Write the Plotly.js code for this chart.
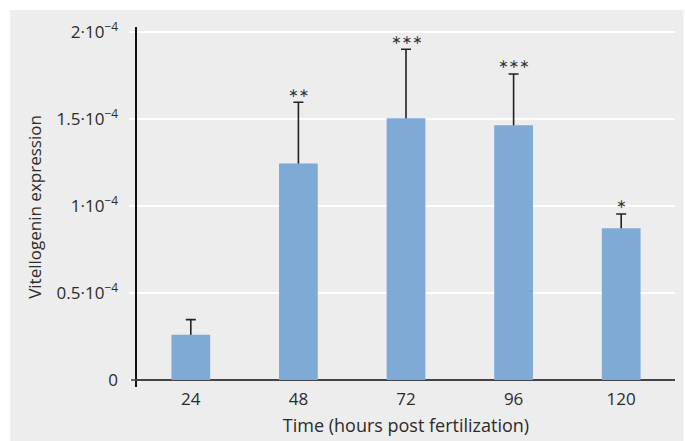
<!DOCTYPE html>
<html>
<head>
<meta charset="utf-8">
<script src="https://cdn.plot.ly/plotly-3.0.1.min.js"></script>
<style>html,body{margin:0;padding:0;background:#fff;}#chart{width:685px;height:441px;}</style>
</head>
<body>
<div id="chart"></div>
<script>
// Data (hours post fertilization vs vitellogenin expression)
var hours = ["24", "48", "72", "96", "120"];
var expression = [0.26e-4, 1.245e-4, 1.505e-4, 1.465e-4, 0.872e-4];
var errorUp = [0.087e-4, 0.352e-4, 0.397e-4, 0.295e-4, 0.083e-4];
var significance = ["", "∗∗", "∗∗∗", "∗∗∗", "∗"];
var yTickVals = [0, 0.5e-4, 1e-4, 1.5e-4, 2e-4];
var yTickText = ["0", "0.5·10<sup>−4</sup>", "1·10<sup>−4</sup>", "1.5·10<sup>−4</sup>", "2·10<sup>−4</sup>"];

var textColor = "#2b2b2b";
var fontFam = "'Open Sans', Roboto, sans-serif";
var barColor = "#7faad6";

// Error bars are drawn by an invisible overlaid bar trace whose lower cap
// sits just inside the real bar, so the visible bar hides it.
var hide = 0.025e-4;
var errTrace = {
  type: "bar",
  x: hours,
  y: expression.map(function(v){ return v - hide; }),
  marker: {color: "rgba(0,0,0,0)", line: {width: 0}},
  error_y: {type: "data", symmetric: false,
            array: errorUp.map(function(e){ return e + hide; }),
            arrayminus: hours.map(function(){ return 0; }),
            color: "#222", thickness: 1.6, width: 5},
  hoverinfo: "skip"
};
var barTrace = {
  type: "bar",
  x: hours,
  y: expression,
  marker: {color: barColor, line: {width: 0}},
  hoverinfo: "skip"
};

var annotations = [];
for (var i = 0; i < hours.length; i++) {
  if (!significance[i]) continue;
  annotations.push({
    x: i, y: expression[i] + errorUp[i], xref: "x", yref: "y",
    text: significance[i], showarrow: false, yanchor: "middle", yshift: 10,
    font: {family: "'DejaVu Sans', sans-serif", size: 12.5, color: "#333"}
  });
}

var pw = 538, ph = 360;
var layout = {
  width: 685, height: 441,
  margin: {l: 137, r: 10, t: 27, b: 54, pad: 0},
  paper_bgcolor: "#ffffff",
  plot_bgcolor: "rgba(0,0,0,0)",
  showlegend: false,
  barmode: "overlay",
  bargap: 0.64,
  font: {family: fontFam, size: 17, color: textColor},
  xaxis: {
    type: "category", range: [-0.5, 4.5], showline: false, ticks: "", showgrid: false, zeroline: false,
    tickfont: {family: fontFam, size: 17, color: textColor},
    title: {text: "Time (hours post fertilization)", font: {family: fontFam, size: 18, color: textColor}, standoff: 10}
  },
  yaxis: {
    range: [-0.0403e-4, 2.03e-4],
    tickmode: "array", tickvals: yTickVals, ticktext: yTickText,
    ticks: "outside", ticklen: 6, tickwidth: 2, tickcolor: "#ffffff",
    ticklabelstandoff: 8,
    showgrid: true, gridcolor: "#ffffff", gridwidth: 2,
    zeroline: true, zerolinecolor: "#444444", zerolinewidth: 1.6,
    showline: true, linecolor: "#111111", linewidth: 1.6,
    tickfont: {family: fontFam, size: 17, color: textColor},
    title: {text: "Vitellogenin expression", font: {family: fontFam, size: 17, color: textColor}, standoff: 10}
  },
  shapes: [
    {type: "rect", xref: "paper", yref: "paper", layer: "below",
     x0: (10 - 137) / pw, x1: (683.5 - 137) / pw, y0: (387 - 441) / ph, y1: (387 - 10) / ph,
     fillcolor: "#ededed", line: {width: 0}},
    {type: "line", xref: "paper", yref: "y", x0: -6 / pw, x1: 0, y0: 0, y1: 0,
     line: {color: "#444444", width: 1.6}}
  ],
  annotations: annotations
};

Plotly.newPlot("chart", [errTrace, barTrace], layout, {staticPlot: true, displayModeBar: false});
</script>
</body>
</html>
